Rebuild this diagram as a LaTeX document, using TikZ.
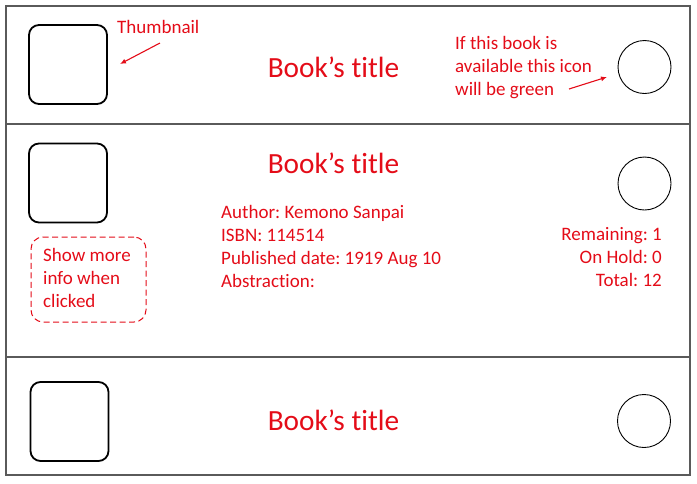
\documentclass[tikz,border=0pt]{standalone}
\usepackage{fontspec}
\setmainfont{Carlito}[Ligatures={NoCommon}]
\usepackage{xcolor}
\usetikzlibrary{arrows.meta,positioning}
\definecolor{notered}{RGB}{228,12,24}
\definecolor{framegray}{RGB}{90,90,90}
\frenchspacing

\begin{document}
\begin{tikzpicture}[
	x=1pt, y=-1pt,
	row/.style={
		draw=framegray,
		line width=1.3pt,
		minimum width=684pt,
		inner sep=0pt
	},
	thumb/.style={
		draw,
		rounded corners=10pt,
		minimum width=78pt,
		minimum height=79pt,
		line width=1.8pt
	},
	status/.style={
		draw,
		circle,
		minimum size=53pt,
		line width=0.9pt
	},
	title/.style={
		text=notered,
		font=\fontsize{29.3}{35}\selectfont,
		anchor=base,
		inner sep=0pt
	},
	info/.style={
		text=notered,
		font=\fontsize{19}{23}\selectfont,
		inner sep=0pt
	},
	note/.style={
		-{Latex[length=6pt,width=5pt]},
		draw=notered,
		line width=1.1pt
	}
	]
	\useasboundingbox (0,0) rectangle (697,483);
	
	% rows
	\node[row, minimum height=118pt] (row1) at (348,65) {};
	\node[row, minimum height=233pt] (row2) at (348,240.5) {};
	\node[row, minimum height=118pt] (row3) at (348,416) {};
	
	% thumbnails
	\node[thumb] (thumb1) at (68,64.5) {};
	\node[thumb] (thumb2) at (68,183) {};
	\node[thumb] (thumb3) at (69.5,421.5) {};
	
	% availability icons
	\node[status] (icon1) at (644.5,67) {};
	\node[status] (icon2) at (644.5,183.5) {};
	\node[status] (icon3) at (644,421) {};
	
	% titles
	\node[title] (title1) at (333.5,77) {Book’s title};
	\node[title] (title2) at (333.5,173) {Book’s title};
	\node[title] (title3) at (333.5,430) {Book’s title};
	
	% details of the open row
	\foreach \txt [count=\i] in {Author: Kemono Sanpai, ISBN: 114514, Published date: 1919 Aug 10, Abstraction:}
		\node[info, anchor=base west] (detail\i) at (221,{218+23*(\i-1)}) {\txt};
	\foreach \txt [count=\i] in {Remaining: 1, On Hold: 0, Total: 12}
		\node[info, anchor=base east] (count\i) at (662,{240+23*(\i-1)}) {\txt};
	
	% hint box
	\node[draw=notered, dash pattern=on 6pt off 3.5pt, line width=1pt,
		rounded corners=12pt, minimum width=115pt, minimum height=85pt]
		(hint) at (88.5,279.5) {};
	\foreach \txt [count=\i] in {Show more, info when, clicked}
		\node[info, anchor=base west] (hint\i) at (43,{261+23*(\i-1)}) {\txt};
	
	% annotations
	\node[info, anchor=base west] (thumblabel) at (117,33) {Thumbnail};
	\coordinate (thumbtail) at (160,43);
	\coordinate (thumbtip) at (120,64);
	\draw[note] (thumbtail) -- (thumbtip);
	
	\foreach \txt [count=\i] in {If this book is, available this icon, will be green}
		\node[info, anchor=base west] (green\i) at (455,{49+23*(\i-1)}) {\txt};
	\coordinate (greentail) at (569,89);
	\coordinate (greentip) at (607,77);
	\draw[note] (greentail) -- (greentip);
\end{tikzpicture}
\end{document}
